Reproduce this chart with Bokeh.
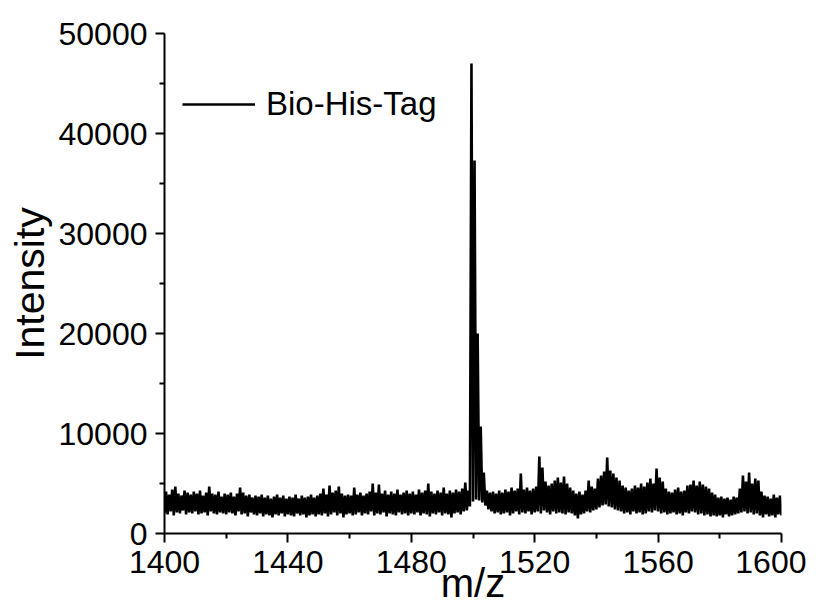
from bokeh.plotting import figure
from bokeh.models import FixedTicker, Legend, LegendItem
from bokeh.embed import file_html
from bokeh.resources import INLINE

# m/z grid start / step for the read envelope values
mz_start = 1400
mz_stop = 1600

# lower edge of the noisy trace, one value per m/z unit (1400..1600)
low_vals = [
    2000, 1900, 2200, 1800, 2100, 2000, 2300, 1900, 2100, 2000,
    2200, 1900, 2000, 2100, 1800, 2200, 2000, 1900, 2100, 2000,
    1900, 2100, 2000, 1800, 2200, 1900, 2000, 1700, 2100, 1900,
    1800, 2000, 1700, 1900, 1800, 1600, 1900, 1800, 2000, 1700,
    1900, 1800, 1700, 2000, 1800, 1900, 1600, 1800, 1900, 1700,
    1900, 1800, 2000, 1700, 1900, 2100, 1800, 2000, 1600, 1900,
    2000, 1800, 1900, 2100, 1800, 2000, 1900, 2200, 1800, 2000,
    1900, 2100, 1700, 2000, 1900, 1800, 2100, 1900, 2000, 1800,
    2000, 1900, 2100, 1800, 2000, 1900, 1700, 2000, 1900, 2100,
    1800, 2000, 1900, 1600, 2000, 2100, 1900, 2200, 2300, 2700,
    3200, 3400, 3300, 3100, 2800, 2400, 2200, 2000, 2100, 1900,
    2000, 2100, 1800, 2000, 2200, 1900, 2100, 2000, 2200, 1900,
    2100, 2200, 2000, 2300, 2100, 1900, 2200, 2000, 2100, 2000,
    1900, 2100, 2000, 1800, 1500, 1900, 2000, 2200, 2100, 2300,
    2400, 2600, 2800, 2900, 2700, 2600, 2400, 2300, 2200, 2000,
    2100, 1900, 2200, 2000, 2100, 1900, 2000, 2200, 2100, 2300,
    2200, 2000, 2100, 1900, 2000, 2100, 1900, 2000, 1800, 2100,
    2000, 2200, 2100, 1900, 2000, 1800, 1900, 1700, 1800, 1700,
    1800, 1600, 1900, 1700, 1800, 1900, 2000, 2100, 2200, 2000,
    2100, 1900, 2000, 1800, 1600, 1900, 1700, 1800, 1600, 1900,
    1800,
]

# upper edge / spike tops, one value per m/z unit, located at m/z + 0.5 (1400.5..1599.5)
high_vals = [
    4200, 3900, 4400, 4700, 4000, 3800, 4300, 4100, 3900, 4200,
    4000, 4300, 3800, 4100, 4700, 4000, 3900, 4200, 3700, 4000,
    3900, 4100, 3700, 4000, 4600, 4100, 3800, 3900, 3600, 3800,
    3700, 3900, 3600, 3800, 3500, 3700, 3900, 3600, 3800, 3500,
    3700, 3600, 3900, 3500, 3800, 3600, 3700, 3900, 3600, 3800,
    4000, 4500, 3900, 4800, 4100, 4300, 4700, 4000, 3800, 3900,
    3800, 4600, 3900, 4100, 3800, 4000, 4200, 5000, 4100, 4900,
    4000, 4300, 3900, 4200, 4000, 4400, 3900, 4100, 4300, 4000,
    4200, 3900, 4400, 4100, 4300, 5000, 4200, 4000, 4300, 4100,
    4600, 4000, 4300, 4100, 4400, 4200, 4500, 5100, 4300, 47000,
    37300, 20000, 10700, 6100, 4300, 4100, 4200, 4000, 4300, 4100,
    4400, 4200, 4600, 4300, 4500, 6000, 4400, 4600, 4300, 4500,
    4700, 7700, 6600, 5200, 4800, 5000, 5300, 5600, 5100, 5700,
    5000, 4600, 4300, 4000, 4200, 3900, 4300, 5300, 4700, 4500,
    5500, 5800, 6200, 7600, 6300, 6000, 5600, 5300, 4800, 4600,
    4300, 4500, 4800, 4600, 5000, 4700, 5100, 5500, 5000, 6500,
    5600, 5200, 4500, 4200, 4100, 4400, 4600, 4200, 4300, 4800,
    4900, 5300, 4800, 5200, 4900, 4700, 4500, 4100, 3900, 3600,
    3700, 3500, 3600, 3400, 3700, 3600, 4500, 5800, 5200, 6100,
    5000, 5500, 5300, 4200, 3800, 3700, 3500, 3900, 3600, 3800,
]

x_ticks = [1400, 1440, 1480, 1520, 1560, 1600]
x_minor = [1420, 1460, 1500, 1540, 1580]
y_ticks = [0, 10000, 20000, 30000, 40000, 50000]
y_minor = [5000, 15000, 25000, 35000, 45000]
series_name = "Bio-His-Tag"

# interleave low / high values into one trace
mz, inten = [], []
for i, lo in enumerate(low_vals):
    mz.append(mz_start + i)
    inten.append(lo)
    if i < len(high_vals):
        mz.append(mz_start + i + 0.5)
        inten.append(high_vals[i])

FONT = "Liberation Sans"

p = figure(frame_width=617, frame_height=500, x_range=(mz_start, mz_stop), y_range=(0, 50000),
           output_backend="svg", toolbar_location=None,
           min_border_left=164, min_border_top=33, min_border_right=25, min_border_bottom=76)
p.outline_line_color = None
p.xgrid.visible = False
p.ygrid.visible = False
p.background_fill_color = "white"

r = p.line(mz, inten, line_color="black", line_width=2.6)

p.xaxis.ticker = FixedTicker(ticks=x_ticks, minor_ticks=x_minor)
p.yaxis.ticker = FixedTicker(ticks=y_ticks, minor_ticks=y_minor)
p.xaxis.axis_label = "m/z"
p.yaxis.axis_label = "Intensity"

for ax in (p.xaxis, p.yaxis):
    ax.axis_line_width = 2
    ax.axis_line_color = "black"
    ax.major_tick_line_width = 2
    ax.minor_tick_line_width = 2
    ax.major_tick_line_color = "black"
    ax.minor_tick_line_color = "black"
    ax.major_tick_in = 0
    ax.major_tick_out = 9
    ax.minor_tick_in = 0
    ax.minor_tick_out = 5
    ax.major_label_text_font = FONT
    ax.major_label_text_font_size = "32px"
    ax.major_label_text_color = "black"
    ax.axis_label_text_font = FONT
    ax.axis_label_text_font_style = "normal"
    ax.axis_label_text_color = "black"

p.yaxis.axis_label_text_font_size = "41px"
p.xaxis.axis_label_text_font_size = "40px"
p.xaxis.major_label_standoff = 8
p.yaxis.major_label_standoff = 8
p.xaxis.axis_label_standoff = -15
p.yaxis.axis_label_standoff = 3

legend = Legend(items=[LegendItem(label=series_name, renderers=[r])], location=(18, 410))
legend.border_line_color = None
legend.background_fill_alpha = 0
legend.padding = 0
legend.margin = 0
legend.glyph_width = 73
legend.glyph_height = 36
legend.label_height = 36
legend.label_standoff = 11
legend.label_text_font = FONT
legend.label_text_font_size = "33px"
legend.label_text_color = "black"
p.add_layout(legend, "center")

open("out.html", "w").write(file_html(p, INLINE))
